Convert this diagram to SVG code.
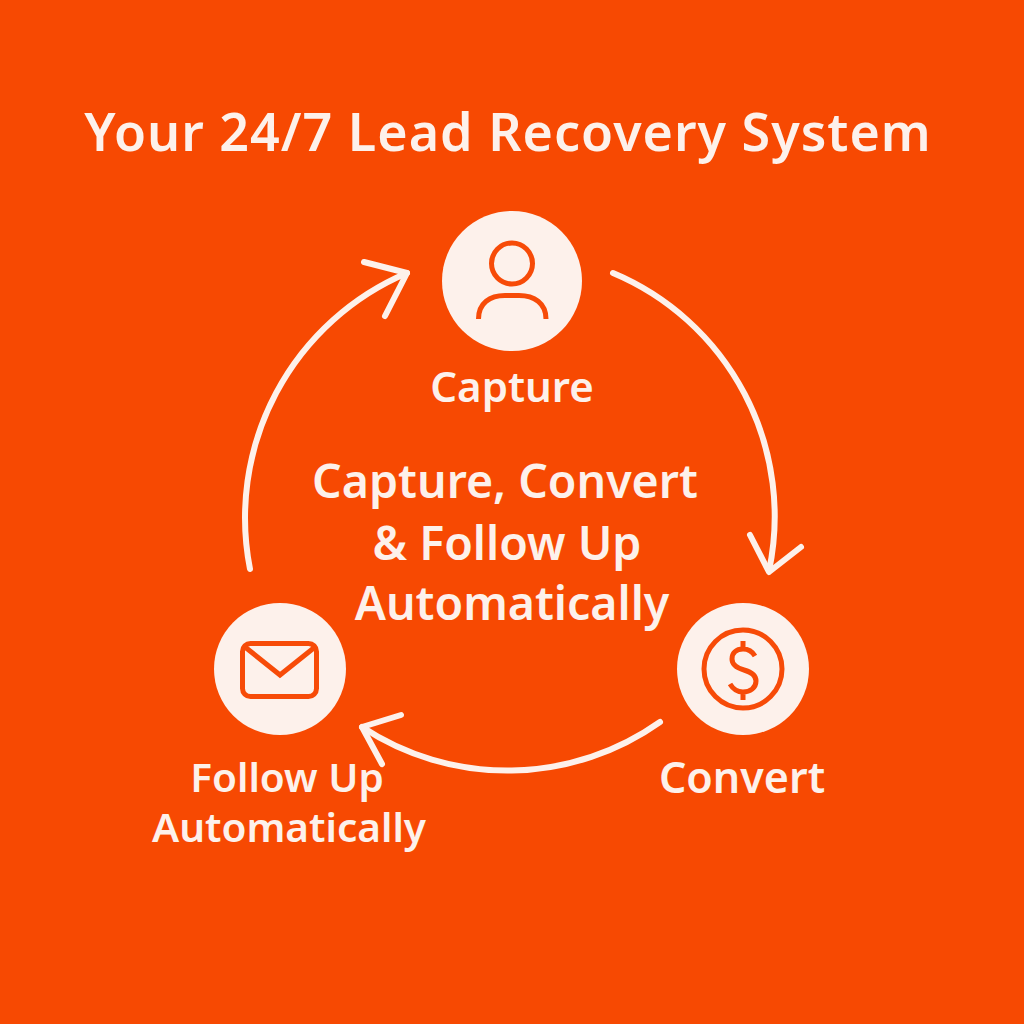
<svg xmlns="http://www.w3.org/2000/svg" width="1024" height="1024" viewBox="0 0 1024 1024">
<style>
text{font-family:"Noto Sans","Open Sans","Liberation Sans",sans-serif;fill:#fdf1eb;text-anchor:middle;font-weight:600}
.t{font-size:46.500px}
.l{font-size:40.500px}
.c{fill:#fdf1eb}
.i{fill:none;stroke:#f74b08;stroke-width:5}
.a{fill:none;stroke:#fdf1eb;stroke-width:6;stroke-linecap:round;stroke-linejoin:round}
</style>
<rect width="1024" height="1024" fill="#f74902"/>
<text x="508" y="151" style="font-size:52px;letter-spacing:1px">Your 24/7 Lead Recovery System</text>
<g id="connectors">
<path class="a" d="M613 273A264 264 0 0 1 769 571"/>
<path class="a" d="M750 535L769 572L801 547"/>
<path class="a" d="M660 722A264 264 0 0 1 362 727"/>
<path class="a" d="M401 715L362 727L382 764"/>
<path class="a" d="M250 569A266 266 0 0 1 407 273"/>
<path class="a" d="M364 262L407 273L385 316"/>
</g>
<g id="capture">
<circle class="c" cx="512" cy="281" r="70"/>
<circle class="i" cx="512" cy="263.500" r="20.500"/>
<path class="i" d="M478.500 319C478.500 303 490 295.500 505 295.500H519C534 295.500 546 303 546 319"/>
<text x="512" y="402" style="font-size:42px">Capture</text>
</g>
<g id="convert">
<circle class="c" cx="743" cy="669" r="66"/>
<circle class="i" cx="743" cy="669" r="39"/>
<path class="i" d="M755 656C752 651 748 649 743 649C736 649 732 653 732 659C732 665 737 668 744 670C751 672 756 675 756 681C756 688 750 692 743 692C737 692 733 689 730 684M743 641V649M743 692V700"/>
<text x="742" y="793" style="font-size:43px">Convert</text>
</g>
<g id="follow-up">
<circle class="c" cx="280" cy="669" r="66"/>
<rect class="i" x="242.500" y="643.500" width="74" height="53" rx="8"/>
<path class="i" d="M245 647L280 675L315 647"/>
<text x="287" y="792" class="l">Follow Up</text>
<text x="289" y="842" class="l">Automatically</text>
</g>
<g id="center">
<text x="505" y="498" class="t">Capture, Convert</text>
<text x="507" y="560" class="t">&amp; Follow Up</text>
<text x="512" y="620" class="t">Automatically</text>
</g>
</svg>
